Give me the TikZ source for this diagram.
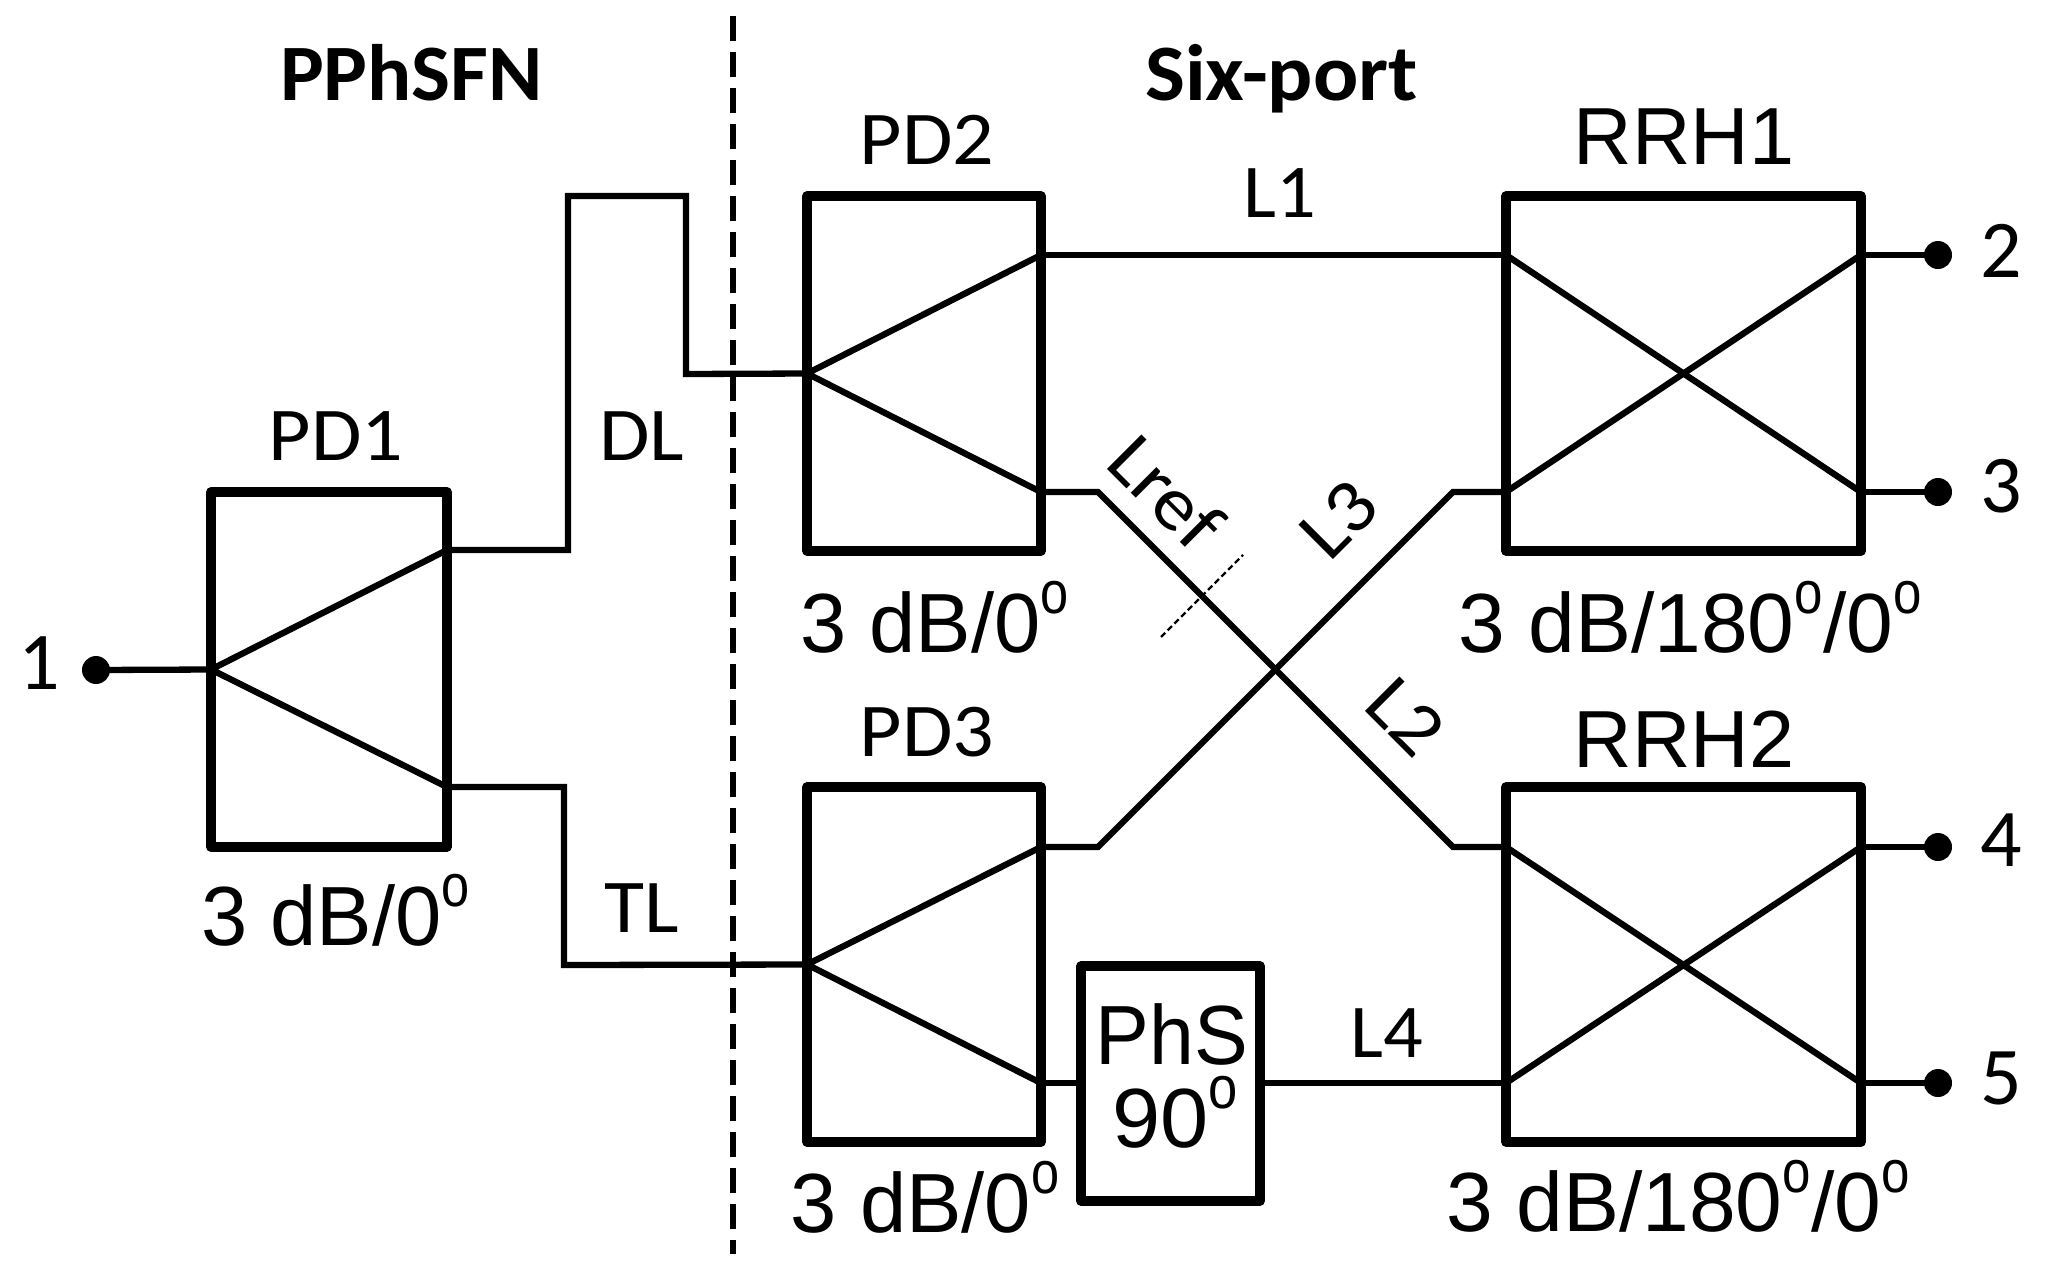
\documentclass[tikz,border=0pt]{standalone}
\usepackage{fontspec}
\setmainfont{Liberation Sans}
\newfontfamily\crl{Carlito}
\newcommand{\dgo}{\raisebox{39pt}{\scalebox{.85}[1]{\fontsize{60}{60}\selectfont o}}}
\newcommand{\arn}[1]{\scalebox{.99}[1]{#1}}
\newcommand{\wdn}[1]{\scalebox{1.08}[1]{#1}}
\tikzset{
  x=1pt,y=-1pt,
  box/.style={draw,line width=9.5pt,inner sep=0pt,outer sep=0pt,line join=round},
  wire/.style={line width=6.3pt,line join=miter,line cap=round},
  dot/.style={circle,fill=black,draw=none,minimum size=28pt,inner sep=0pt,outer sep=0pt},
  cl/.style={font=\crl\fontsize{76}{76}\selectfont,anchor=base,inner sep=0pt},
  cb/.style={font=\crl\bfseries\fontsize{80}{80}\selectfont,anchor=base,inner sep=0pt},
  al/.style={font=\fontsize{84}{84}\selectfont,anchor=base,inner sep=0pt},
  rr/.style={font=\fontsize{81}{81}\selectfont,anchor=base,inner sep=0pt},
  nm/.style={font=\crl\fontsize{82}{82}\selectfont,anchor=base,inner sep=0pt},
}
\begin{document}
\begin{tikzpicture}
\useasboundingbox (0,0) rectangle (2054,1286);
% divider
\coordinate (dt) at (733,16); \coordinate (db) at (733,1254);
\draw[line width=6pt,dash pattern=on 25pt off 11pt] (dt) -- (db);
% boxes
\node[box,minimum width=236pt,minimum height=355pt] (pd1) at (329,669.5) {};
\node[box,minimum width=234pt,minimum height=355pt] (pd2) at (924,373.5) {};
\node[box,minimum width=234pt,minimum height=355pt] (pd3) at (924,964.5) {};
\node[box,minimum width=355pt,minimum height=355pt] (rrh1) at (1683.5,373.5) {};
\node[box,minimum width=355pt,minimum height=355pt] (rrh2) at (1683.5,964.5) {};
\node[box,minimum width=179pt,minimum height=235pt] (phs) at (1170.5,1083.5) {};
% ports
\coordinate (p1a) at (447,550);  \coordinate (p1b) at (447,787);
\coordinate (p2a) at (1041,255); \coordinate (p2b) at (1041,492);
\coordinate (p3a) at (1041,847); \coordinate (p3b) at (1041,1083);
\coordinate (r1a) at (1506,255); \coordinate (r1b) at (1506,492);
\coordinate (r1c) at (1861,255); \coordinate (r1d) at (1861,492);
\coordinate (r2a) at (1506,847); \coordinate (r2b) at (1506,1083);
\coordinate (r2c) at (1861,847); \coordinate (r2d) at (1861,1083);
% bends
\coordinate (d1) at (568,550); \coordinate (d2) at (568,196);
\coordinate (d3) at (686,196); \coordinate (d4) at (686,374);
\coordinate (t1) at (564,787); \coordinate (t2) at (564,965);
\coordinate (x1) at (1098,492); \coordinate (x2) at (1453,847);
\coordinate (x3) at (1098,847); \coordinate (x4) at (1453,492);
% terminals
\node[dot] (n1) at (96,670) {};
\node[dot] (n2) at (1938,255) {};
\node[dot] (n3) at (1938,492) {};
\node[dot] (n4) at (1938,847) {};
\node[dot] (n5) at (1938,1083) {};
% inner lines
\draw[wire] (p1a) -- (pd1.west) -- (p1b);
\draw[wire] (p2a) -- (pd2.west) -- (p2b);
\draw[wire] (p3a) -- (pd3.west) -- (p3b);
\draw[wire] (r1a) -- (r1d); \draw[wire] (r1b) -- (r1c);
\draw[wire] (r2a) -- (r2d); \draw[wire] (r2b) -- (r2c);
% connectors
\draw[wire] (n1) -- (pd1.west);
\draw[wire] (p1a) -- (d1) -- (d2) -- (d3) -- (d4) -- (pd2.west);
\draw[wire] (p1b) -- (t1) -- (t2) -- (pd3.west);
\draw[wire] (p2a) -- (r1a);
\draw[wire] (p2b) -- (x1) -- (x2) -- (r2a);
\draw[wire] (p3a) -- (x3) -- (x4) -- (r1b);
\draw[wire] (p3b) -- (phs.west |- p3b);
\draw[wire] (phs.east |- r2b) -- (r2b);
\draw[wire] (r1c) -- (n2); \draw[wire] (r1d) -- (n3);
\draw[wire] (r2c) -- (n4); \draw[wire] (r2d) -- (n5);
% Lref reference plane
\coordinate (c1) at (1161,637); \coordinate (c2) at (1243,555);
\draw[line width=2.4pt,dash pattern=on 6pt off 3.5pt] (c1) -- (c2);
% text
\node[cb] (tpp) at (411.5,100) {\scalebox{1.03}[1]{PPhSFN}};
\node[cb] (tsx) at (1281.5,100) {\scalebox{1.055}[1]{Six-port}};
\node[cl] (tpd1) at (336,460) {\wdn{PD1}};
\node[cl] (tpd2) at (927,164) {\wdn{PD2}};
\node[cl] (tpd3) at (927,756) {\wdn{PD3}};
\node[cl] (tdl) at (642,460) {\wdn{DL}};
\node[cl] (ttl) at (642,932) {\wdn{TL}};
\node[cl] (tl1) at (1280,217) {\scalebox{1.03}[1]{L1}};
\node[cl] (tl4) at (1387,1057) {\scalebox{1.03}[1]{L4}};
\node[cl,rotate=-45] (tlr) at (1148,510) {\wdn{Lref}};
\node[cl,rotate=45] (tl3) at (1356,537) {\wdn{L3}};
\node[cl,rotate=-45] (tl2) at (1388,734) {\wdn{L2}};
\node[rr] (tr1) at (1684,164) {RRH1};
\node[rr] (tr2) at (1684,767) {RRH2};
\node[al] (s1) at (335.5,945) {\arn{3 dB/0\dgo}};
\node[al] (s2) at (934.5,652) {\arn{3 dB/0\dgo}};
\node[al] (s3) at (925,1232) {\arn{3 dB/0\dgo}};
\node[al] (s4) at (1690,652) {\scalebox{1}[1]{3 dB/180\dgo/0\dgo}};
\node[al] (s5) at (1678,1231) {\scalebox{1}[1]{3 dB/180\dgo/0\dgo}};
\node[al] (tp) at (1172,1064) {\scalebox{.96}[1]{PhS}};
\node[al] (t9) at (1175,1147) {\scalebox{1.03}[1]{90\dgo}};
\node[nm] (l1) at (39,689) {1};
\node[nm] (l2) at (2001,277) {2};
\node[nm] (l3) at (2001,512) {3};
\node[nm] (l4) at (2001,866) {4};
\node[nm] (l5) at (2001,1104) {5};
\end{tikzpicture}
\end{document}
